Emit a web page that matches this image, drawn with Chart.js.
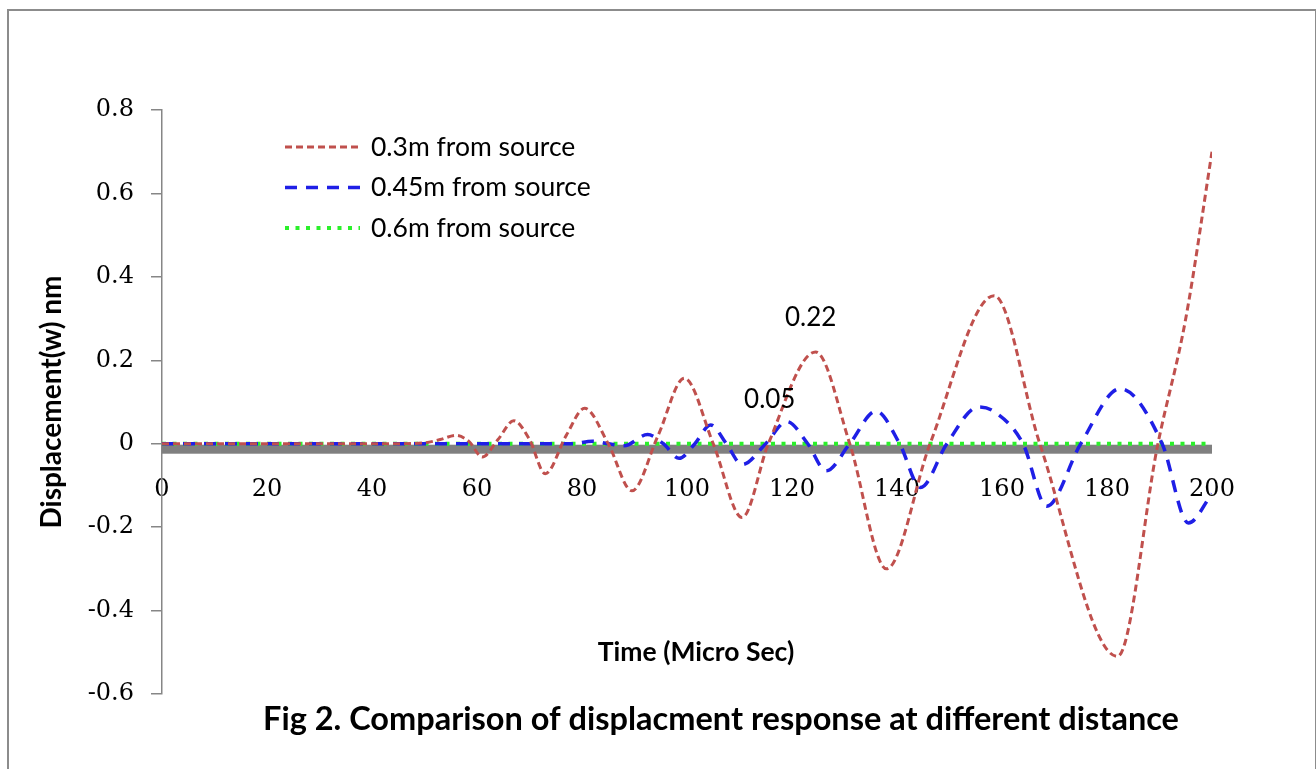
<!DOCTYPE html>
<html>
<head>
<meta charset="utf-8">
<title>Fig 2</title>
<script src="https://cdn.jsdelivr.net/npm/chart.js@4.4.0/dist/chart.umd.min.js"></script>
<style>
    html, body { margin: 0; padding: 0; background: #ffffff; overflow: hidden; }
    #moldura { position: absolute; left: 7px; top: 9px; width: 1306px; height: 800px; border: 2px solid #8c8c8c; }
    #area { position: absolute; left: 0; top: 0; width: 1316px; height: 769px; }
</style>
</head>
<body>
<div id="moldura"></div>
<div id="area"><canvas id="GraficoDeslocamento" width="1316" height="769" style="width:1316px;height:769px;"></canvas></div>
<script>
/*Dados*/
var nomesSeries = ['0.3m from source', '0.45m from source', '0.6m from source'];

var tempo03 = [0, 45, 50, 53, 56, 58.5, 61, 64, 67, 70, 73, 77, 80.5, 85, 89.5, 94.5, 99.5, 105, 110.5, 115.5, 124.5, 131, 138, 146.3, 158.5, 167.2, 182, 189.7, 195, 200];
var valores03 = [0, 0, 0.002, 0.01, 0.02, 0.005, -0.032, 0.01, 0.055, 0.01, -0.072, 0.02, 0.085, 0, -0.113, 0.02, 0.157, 0, -0.177, 0, 0.22, 0, -0.30, 0, 0.355, 0, -0.51, 0, 0.30, 0.70];

var tempo045 = [0, 78, 82, 85, 88, 92.5, 95.5, 98.5, 101.5, 104.5, 107.5, 110.5, 115, 119, 123, 126.5, 131, 136, 140.5, 144.5, 149.5, 155.5, 158.5, 164, 168.5, 175, 182.5, 190.5, 195.5, 200];
var valores045 = [0, 0, 0.006, 0, -0.005, 0.022, 0, -0.035, 0, 0.045, 0, -0.05, 0, 0.053, 0, -0.065, 0, 0.078, 0, -0.105, 0, 0.088, 0.077, 0, -0.15, 0, 0.132, 0, -0.19, -0.12];

var tempo06 = [0, 200];
var valores06 = [0, 0];

var ticksX = [0, 20, 40, 60, 80, 100, 120, 140, 160, 180, 200];
var ticksY = [-0.6, -0.4, -0.2, 0, 0.2, 0.4, 0.6, 0.8];

/*Rótulos de dados: série, tempo do ponto, texto*/
var rotulosSerie = [0, 1];
var rotulosTempo = [124.5, 119];
var rotulosTexto = ['0.22', '0.05'];

/*Função Montar Pontos*/
function MontarPontos(tempos, valores) {
    var pontos = [];
    var indice = 0;

    while (indice < tempos.length) {
        pontos.push({ x: tempos[indice], y: valores[indice] });
        indice++;
    }

    return pontos;
}

/*Faixa cinza abaixo do zero*/
var faixaPlugin = {
    id: 'faixaZero',
    beforeDatasetsDraw: function (chart) {
        var ctx = chart.ctx;
        var area = chart.chartArea;
        var y0 = chart.scales.y.getPixelForValue(0);
        ctx.save();
        ctx.fillStyle = '#808080';
        ctx.fillRect(area.left, y0 + 1, area.right - area.left, 9);
        ctx.restore();
    }
};

/*Legenda, rótulos e títulos*/
var textosPlugin = {
    id: 'textos',
    afterDraw: function (chart) {
        var ctx = chart.ctx;
        ctx.save();

        chart.data.datasets.forEach(function (ds, i) {
            var y = 147 + i * 40.5;
            ctx.save();
            ctx.strokeStyle = ds.borderColor;
            ctx.lineWidth = ds.borderWidth;
            ctx.setLineDash(ds.borderDash);
            ctx.beginPath();
            ctx.moveTo(285, y);
            ctx.lineTo(360, y);
            ctx.stroke();
            ctx.restore();

            ctx.fillStyle = '#000000';
            ctx.font = '26.5px Lato';
            ctx.textAlign = 'left';
            ctx.textBaseline = 'middle';
            ctx.fillText(ds.label, 371, y);
        });

        ctx.font = '26px Lato';
        ctx.textAlign = 'center';
        ctx.textBaseline = 'middle';
        ctx.fillStyle = '#000000';
        var deslocX = [-5, -17];
        var deslocY = [-34, -22];
        rotulosSerie.forEach(function (s, i) {
            var px = chart.scales.x.getPixelForValue(rotulosTempo[i]);
            var ds = chart.data.datasets[s];
            var valor = 0;
            ds.data.forEach(function (p) { if (p.x === rotulosTempo[i]) valor = p.y; });
            var py = chart.scales.y.getPixelForValue(valor);
            ctx.fillText(rotulosTexto[i], px + deslocX[i], py + deslocY[i]);
        });

        ctx.font = 'bold 26.5px Lato';
        ctx.fillText('Time (Micro Sec)', 696, 652);

        ctx.font = 'bold 32.5px Lato';
        ctx.fillText('Fig 2. Comparison of displacment response at different distance', 721, 720);

        ctx.restore();
    }
};

/*Construção do gráfico*/
var ctx = document.getElementById('GraficoDeslocamento').getContext('2d');

var grafico = new Chart(ctx, {
    type: 'line',
    data: {
        datasets: [{
            label: nomesSeries[0],
            data: MontarPontos(tempo03, valores03),
            borderColor: '#c0504d',
            borderWidth: 3,
            borderDash: [7, 4],
            pointRadius: 0,
            fill: false,
            cubicInterpolationMode: 'monotone'
        }, {
            label: nomesSeries[1],
            data: MontarPontos(tempo045, valores045),
            borderColor: '#1f1fe6',
            borderWidth: 3.5,
            borderDash: [12, 9],
            pointRadius: 0,
            fill: false,
            cubicInterpolationMode: 'monotone'
        }, {
            label: nomesSeries[2],
            data: MontarPontos(tempo06, valores06),
            borderColor: '#2bf02b',
            borderWidth: 4,
            borderDash: [4, 6.5],
            pointRadius: 0,
            fill: false
        }]
    },
    options: {
        responsive: false,
        animation: false,
        layout: {
            padding: { left: 30, top: 110, right: 104, bottom: 75 }
        },
        plugins: {
            legend: { display: false },
            tooltip: { enabled: false },
            title: { display: false }
        },
        scales: {
            x: {
                type: 'linear',
                position: { y: 0 },
                min: 0,
                max: 200,
                afterBuildTicks: function (scale) {
                    scale.ticks = ticksX.map(function (v) { return { value: v }; });
                },
                grid: { display: false, drawTicks: false },
                border: { display: false },
                ticks: {
                    padding: 32,
                    color: '#000000',
                    font: { family: 'DejaVu Serif', size: 24 },
                    maxRotation: 0
                }
            },
            y: {
                type: 'linear',
                min: -0.6,
                max: 0.8,
                afterFit: function (scale) { scale.width = 132; },
                afterBuildTicks: function (scale) {
                    scale.ticks = ticksY.map(function (v) { return { value: v }; });
                },
                grid: {
                    drawOnChartArea: false,
                    drawTicks: true,
                    tickLength: 11,
                    color: '#868686',
                    lineWidth: 1.5
                },
                border: { display: true, color: '#868686', width: 1.5 },
                ticks: {
                    padding: 17,
                    color: '#000000',
                    font: { family: 'DejaVu Serif', size: 24 },
                    callback: function (v) { return String(Math.round(v * 10) / 10); }
                },
                title: {
                    display: true,
                    text: 'Displacement(w) nm',
                    color: '#000000',
                    font: { family: 'Lato', size: 28, weight: 'bold' },
                    padding: { top: 5, bottom: 0 }
                }
            }
        }
    },
    plugins: [faixaPlugin, textosPlugin]
});
</script>
</body>
</html>
